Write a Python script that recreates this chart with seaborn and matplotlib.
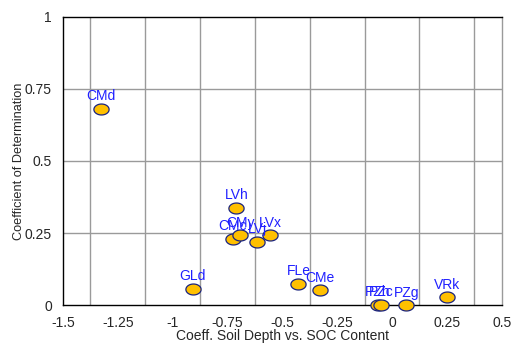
import matplotlib
matplotlib.use("Agg")
import matplotlib.pyplot as plt
import seaborn as sns
import pandas as pd
import numpy as np

labels = ["CMd", "LVh", "CMc", "CMy", "LVj", "LVx", "GLd", "FLe", "CMe", "PZh", "PZc", "PZg", "VRk"]
coef_x = [-1.327, -0.710, -0.726, -0.692, -0.615, -0.556, -0.908, -0.427, -0.327, -0.064, -0.051, 0.065, 0.251]
r2_y = [0.681, 0.337, 0.230, 0.242, 0.219, 0.243, 0.057, 0.074, 0.051, 0.001, 0.001, 0.0, 0.027]
xticks = [-1.5, -1.25, -1, -0.75, -0.5, -0.25, 0, 0.25, 0.5]
xtick_labels = ["-1.5", "-1.25", "-1", "-0.75", "-0.5", "-0.25", "0", "0.25", "0.5"]
yticks = [0, 0.25, 0.5, 0.75, 1]
ytick_labels = ["0", "0.25", "0.5", "0.75", "1"]

df = pd.DataFrame({"label": labels, "x": coef_x, "y": r2_y})

sns.set_style("white")
plt.rcParams["font.family"] = ["Liberation Sans", "DejaVu Sans"]

fig = plt.figure(figsize=(5.12, 3.44), dpi=100)
ax = fig.add_axes([0.123, 0.113, 0.857, 0.838])

ax.set_xlim(-1.5, 0.5)
ax.set_ylim(0, 1)

# gridlines: vertical at mid-positions, horizontal at major ticks
for gx in np.arange(-1.375, 0.5, 0.25):
    ax.axvline(gx, color="#9a9a9a", lw=1.0, zorder=1)
for gy in [0.25, 0.5, 0.75]:
    ax.axhline(gy, color="#9a9a9a", lw=1.0, zorder=1)

verts = np.column_stack([np.cos(np.linspace(0, 2*np.pi, 60)) * 1.0,
                         np.sin(np.linspace(0, 2*np.pi, 60)) * 0.72])
sns.scatterplot(data=df, x="x", y="y", ax=ax, marker=verts, s=120,
                color="#FFC000", edgecolor="#1a237e", linewidth=0.9,
                zorder=5, clip_on=False, legend=False)

for lab, x, y in zip(labels, coef_x, r2_y):
    ax.annotate(lab, (x, y), xytext=(0, 4), textcoords="offset points",
                ha="center", va="bottom", color="#2020ff", fontsize=10, zorder=6)

ax.set_xticks(xticks)
ax.set_xticklabels(xtick_labels, fontsize=10)
ax.set_yticks(yticks)
ax.set_yticklabels(ytick_labels, fontsize=10)
ax.set_xticks(np.arange(-1.375, 0.5, 0.25), minor=True)
ax.set_yticks(np.arange(0.125, 1, 0.25), minor=True)
ax.tick_params(axis="both", which="major", direction="out", length=5, width=0.8, color="#555555", pad=3)
ax.tick_params(axis="y", which="minor", direction="inout", length=6, width=0.8, color="#555555")
ax.tick_params(axis="x", which="minor", direction="out", length=5, width=0.8, color="#555555")

ax.set_xlabel("Coeff. Soil Depth vs. SOC Content", fontsize=10, labelpad=-1)
ax.set_ylabel("Coefficient of Determination", fontsize=9.2, labelpad=0)

for side in ["left", "bottom", "top"]:
    ax.spines[side].set_color("black")
    ax.spines[side].set_linewidth(1.0)
ax.spines["right"].set_color("#9a9a9a")
ax.spines["right"].set_linewidth(1.0)

fig.savefig("out.png", dpi=100)
